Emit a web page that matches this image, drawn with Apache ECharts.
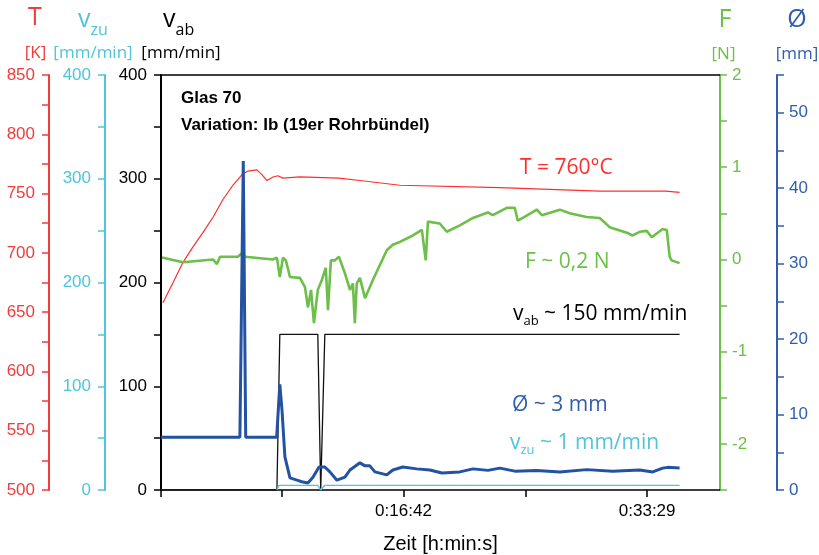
<!DOCTYPE html>
<html>
<head>
<meta charset="utf-8">
<script src="https://cdn.jsdelivr.net/npm/echarts@6/dist/echarts.min.js"></script>
<style>
  html, body { margin: 0; padding: 0; background: #fff; }
  #main { width: 819px; height: 555px; }
</style>
</head>
<body>
<div id="main"></div>
<script>
// time in seconds
var tempK = [[8,658],[50,675],[91,692],[132,705],[173,717],[215,730],[256,745],[297,757],[335,766],[359,769],[396,770],[417,766],[438,761],[463,764],[483,765],[504,763],[574,764],[735,763],[822,761],[987,757],[1400,755],[1813,752],[2086,752],[2090,751],[2143,751]];

var forceN = [[4,0.02],[91,-0.03],[215,0.0],[231,-0.05],[244,0.03],[318,0.03],[335,0.07],[347,0.03],[463,0.0],[479,0.02],[491,-0.19],[504,0.02],[516,-0.01],[533,-0.19],[574,-0.2],[595,-0.3],[607,-0.52],[620,-0.33],[632,-0.69],[648,-0.33],[665,-0.22],[681,-0.09],[690,-0.55],[702,-0.01],[719,-0.01],[735,0.03],[760,-0.15],[781,-0.33],[793,-0.26],[801,-0.69],[809,-0.26],[822,-0.2],[843,-0.42],[876,-0.22],[933,0.10],[958,0.16],[987,0.19],[1041,0.26],[1078,0.32],[1086,0.32],[1094,-0.01],[1103,0.41],[1152,0.39],[1181,0.30],[1235,0.37],[1289,0.45],[1351,0.51],[1371,0.48],[1429,0.56],[1462,0.56],[1474,0.42],[1495,0.45],[1553,0.54],[1574,0.48],[1648,0.54],[1689,0.50],[1759,0.46],[1813,0.45],[1854,0.35],[1925,0.29],[1949,0.26],[1978,0.30],[2007,0.31],[2028,0.24],[2073,0.33],[2090,0.32],[2102,0.03],[2110,-0.01],[2143,-0.04]];

var vab = [[0,0],[479,0],[491,150],[648,150],[660,0],[668,0],[677,150],[2143,150]];

var vzu = [[479,0],[487,4.5],[648,4.5],[660,0],[668,0],[677,4.5],[2143,4.5]];

var diamMm = [[0,7.0],[326,7.0],[340,43.6],[350,7.0],[478,7.0],[491,14.0],[500,10.6],[512,4.4],[533,1.6],[562,1.3],[582,1.1],[607,0.93],[628,1.7],[653,3.05],[677,3.05],[698,2.4],[727,1.3],[760,1.7],[781,2.65],[822,3.6],[843,3.2],[863,3.2],[884,2.4],[933,2.0],[958,2.65],[999,3.05],[1057,2.8],[1111,2.65],[1161,2.25],[1235,2.4],[1289,2.8],[1351,2.6],[1400,2.9],[1462,2.5],[1553,2.6],[1648,2.4],[1759,2.7],[1867,2.5],[1978,2.65],[2032,2.4],[2073,2.9],[2094,3.0],[2143,2.9]];

var xTickSeconds = [0, 501, 1002, 1505.5, 2009];
var xLabelSeconds = [1002, 2009];

var RED = '#f23c3c', CYAN = '#4fc4da', GREEN = '#6cbf48', BLUE = '#2f5faa', BLUE_LINE = '#2352a3';
var SANS = 'Liberation Sans';
var OPEN = 'Open Sans';

function hms(s) {
  s = Math.round(s);
  var h = Math.floor(s / 3600), m = Math.floor((s % 3600) / 60), r = s % 60;
  return h + ':' + (m < 10 ? '0' : '') + m + ':' + (r < 10 ? '0' : '') + r;
}

function yAx(pos, offset, min, max, interval, every, color, margin) {
  return {
    type: 'value', position: pos, offset: offset, min: min, max: max, interval: interval,
    axisLine: { show: true, onZero: false, lineStyle: { color: color, width: 2 } },
    axisTick: { show: true, length: 7, lineStyle: { color: color, width: 1.5 } },
    axisLabel: {
      color: color, fontFamily: SANS, fontSize: 17, margin: margin,
      formatter: function (v) { return Math.abs(v / every - Math.round(v / every)) < 1e-9 ? String(v) : ''; }
    },
    splitLine: { show: false }
  };
}

function txt(x, y, text, color, size, align) {
  return {
    type: 'text', x: x, y: y, z: 100,
    style: { text: text, fill: color, font: size + 'px "' + OPEN + '"', textAlign: align || 'center', textVerticalAlign: 'middle' }
  };
}

// subscript pushed down with top padding on its rich token
function subTxt(x, y, main, sub, rest, color, size, subSize, drop) {
  return {
    type: 'text', x: x, y: y, z: 100,
    style: {
      text: '{m|' + main + '}{s|' + sub + '}' + (rest ? '{m|' + rest + '}' : ''),
      textAlign: 'left', textVerticalAlign: 'middle',
      rich: {
        m: { fill: color, fontFamily: OPEN, fontSize: size },
        s: { fill: color, fontFamily: OPEN, fontSize: subSize, padding: [drop, 0, 0, 0] }
      }
    }
  };
}

var chart = echarts.init(document.getElementById('main'));

var option = {
  animation: false,
  backgroundColor: '#fff',
  grid: { left: 161, right: 99, top: 75, bottom: 65, containLabel: false, outerBoundsMode: 'none' },
  xAxis: [
    {
      type: 'value', min: 0, max: 2310, position: 'bottom',
      axisLine: { onZero: false, lineStyle: { color: '#000', width: 1.5 } },
      axisTick: { customValues: xTickSeconds, length: 7, lineStyle: { color: '#000', width: 1.5 } },
      axisLabel: { customValues: xLabelSeconds, formatter: hms, color: '#000', fontFamily: SANS, fontSize: 17, margin: 13 },
      splitLine: { show: false },
      name: 'Zeit [h:min:s]', nameLocation: 'middle', nameGap: 44,
      nameTextStyle: { color: '#000', fontFamily: SANS, fontSize: 20 }
    },
    {
      type: 'value', min: 0, max: 2310, position: 'top',
      axisLine: { onZero: false, lineStyle: { color: '#000', width: 1.5 } },
      axisTick: { show: false }, axisLabel: { show: false }, splitLine: { show: false }
    }
  ],
  yAxis: [
    yAx('left', 0, 0, 400, 50, 100, '#000', 14),
    yAx('left', 56, 0, 400, 50, 100, CYAN, 14),
    yAx('left', 112, 500, 850, 25, 50, RED, 14),
    yAx('right', 0, -2.5, 2, 0.5, 1, GREEN, 12),
    yAx('right', 57, 0, 55, 5, 10, BLUE, 12)
  ],
  series: [
    { name: 'T', type: 'line', yAxisIndex: 2, data: tempK, showSymbol: false, lineStyle: { color: '#ff2e2e', width: 1.2 } },
    { name: 'F', type: 'line', yAxisIndex: 3, data: forceN, showSymbol: false, lineStyle: { color: GREEN, width: 2.6 } },
    { name: 'vab', type: 'line', yAxisIndex: 0, data: vab, showSymbol: false, lineStyle: { color: '#111', width: 1.3 } },
    { name: 'vzu', type: 'line', yAxisIndex: 1, data: vzu, showSymbol: false, lineStyle: { color: CYAN, width: 1.4 } },
    { name: 'D', type: 'line', yAxisIndex: 4, data: diamMm, showSymbol: false, lineStyle: { color: BLUE_LINE, width: 3 } }
  ],
  graphic: [
    txt(35, 18, 'T', RED, 25),
    txt(35.5, 53, '[K]', RED, 17),
    subTxt(78, 20, 'v', 'zu', '', CYAN, 25, 16, 20),
    txt(93, 53, '[mm/min]', CYAN, 17),
    subTxt(163, 20, 'v', 'ab', '', '#000', 25, 16, 20),
    txt(181, 53, '[mm/min]', '#000', 17),
    txt(725, 20, 'F', GREEN, 25),
    txt(723.5, 54, '[N]', GREEN, 17),
    txt(797, 20, '\u00D8', BLUE, 25),
    txt(797, 54, '[mm]', BLUE, 17),
    { type: 'text', x: 181, y: 98, z: 100, style: { text: 'Glas 70', fill: '#000', font: 'bold 17px "Liberation Sans"', textAlign: 'left', textVerticalAlign: 'middle' } },
    { type: 'text', x: 181, y: 125, z: 100, style: { text: 'Variation: Ib (19er Rohrbündel)', fill: '#000', font: 'bold 17px "Liberation Sans"', textAlign: 'left', textVerticalAlign: 'middle' } },
    txt(520, 168, 'T = 760°C', '#ff2e2e', 21, 'left'),
    txt(525, 262, 'F ~ 0,2 N', GREEN, 21, 'left'),
    subTxt(513, 314, 'v', 'ab', ' ~ 150 mm/min', '#000', 21, 13, 15),
    txt(512, 405, '\u00D8 ~ 3 mm', BLUE, 21, 'left'),
    subTxt(510, 443, 'v', 'zu', ' ~ 1 mm/min', CYAN, 21, 13, 15)
  ]
};

chart.setOption(option);
</script>
</body>
</html>
